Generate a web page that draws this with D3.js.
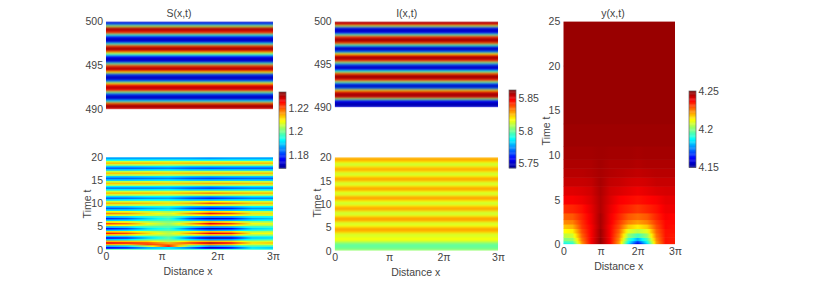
<!DOCTYPE html>
<html>
<head>
<meta charset="utf-8">
<script src="https://cdn.jsdelivr.net/npm/d3@7"></script>
<style>
  body { margin: 0; background: #fff; }
  text { font-family: "Liberation Sans", Arial, sans-serif; font-size: 10.5px; fill: #444; }
</style>
</head>
<body>
<div id="chart"></div>
<script>
const xTickValues = [0, 1, 2, 3];
const xTickLabels = ["0", "π", "2π", "3π"];

// S(x,t) late window, 490..500 in steps of 0.25
const sHighValues = [1.224,1.231,1.231,1.217,1.191,1.174,1.172,1.182,1.202,1.225,1.231,1.226,1.208,1.185,1.173,1.172,1.182,1.209,1.228,1.231,1.221,1.198,1.175,1.171,1.177,1.195,1.212,1.229,1.232,1.221,1.196,1.175,1.171,1.178,1.196,1.221,1.230,1.230,1.204,1.182,1.172];

// I(x,t) late window, 490..500 in steps of 0.25
const iHighValues = [5.755,5.748,5.748,5.758,5.803,5.852,5.860,5.852,5.822,5.770,5.747,5.767,5.803,5.844,5.860,5.856,5.832,5.791,5.755,5.748,5.767,5.803,5.844,5.860,5.852,5.820,5.773,5.748,5.753,5.793,5.836,5.857,5.858,5.841,5.797,5.757,5.747,5.760,5.808,5.850,5.860];

// I(x,t) early window, 0..20 in steps of 1/3
const iLowValues = [5.808,5.803,5.800,5.799,5.799,5.803,5.811,5.816,5.817,5.814,5.812,5.814,5.822,5.827,5.829,5.824,5.817,5.812,5.813,5.822,5.829,5.829,5.822,5.814,5.811,5.813,5.823,5.829,5.827,5.819,5.812,5.811,5.817,5.826,5.830,5.824,5.814,5.811,5.816,5.825,5.829,5.825,5.816,5.811,5.814,5.823,5.829,5.826,5.818,5.811,5.812,5.820,5.827,5.827,5.820,5.812,5.811,5.818,5.826,5.829,5.824];

// S(x,t) early window: columns in units of pi, one row per time
const sLowColumns = [0, 0.375, 0.75, 1.125, 1.5, 1.875, 2.25, 2.625, 3];
const sLowTimes = [0,0.5,0.83,1.17,1.5,1.87,2.23,2.6,2.93,3.27,3.6,3.93,4.27,4.6,4.97,5.33,5.7,6.07,6.43,6.8,7.17,7.53,7.9,8.27,8.63,9,9.37,9.73,10.1,10.47,10.83,11.2,11.57,11.93,12.3,12.67,13.03,13.4,13.73,14.07,14.4,14.77,15.13,15.5,15.87,16.23,16.6,16.97,17.33,17.7,18.07,18.43,18.8,19.13,19.47,19.8,20];
const sLowGrid = [
  [1.198,1.198,1.196,1.195,1.196,1.196,1.196,1.196,1.195],
  [1.177,1.180,1.188,1.192,1.185,1.174,1.179,1.192,1.190],
  [1.188,1.191,1.205,1.224,1.198,1.187,1.190,1.197,1.196],
  [1.214,1.213,1.221,1.218,1.212,1.216,1.213,1.206,1.207],
  [1.226,1.224,1.221,1.214,1.221,1.229,1.224,1.211,1.213],
  [1.214,1.213,1.212,1.204,1.212,1.214,1.212,1.206,1.207],
  [1.189,1.191,1.198,1.200,1.192,1.186,1.187,1.195,1.197],
  [1.177,1.180,1.190,1.198,1.183,1.172,1.175,1.190,1.191],
  [1.189,1.190,1.195,1.200,1.191,1.186,1.187,1.195,1.195],
  [1.212,1.211,1.207,1.204,1.208,1.212,1.212,1.204,1.204],
  [1.224,1.221,1.212,1.205,1.216,1.226,1.224,1.209,1.209],
  [1.212,1.211,1.207,1.203,1.208,1.213,1.212,1.204,1.205],
  [1.189,1.191,1.196,1.198,1.191,1.186,1.189,1.195,1.197],
  [1.177,1.181,1.191,1.196,1.183,1.173,1.177,1.190,1.192],
  [1.188,1.190,1.196,1.198,1.191,1.186,1.188,1.195,1.196],
  [1.210,1.209,1.204,1.201,1.206,1.213,1.210,1.204,1.204],
  [1.221,1.218,1.209,1.203,1.214,1.226,1.221,1.209,1.208],
  [1.210,1.209,1.204,1.201,1.206,1.213,1.210,1.204,1.203],
  [1.190,1.191,1.195,1.198,1.190,1.187,1.188,1.192,1.194],
  [1.179,1.182,1.190,1.196,1.182,1.174,1.177,1.187,1.189],
  [1.189,1.191,1.195,1.199,1.191,1.187,1.188,1.193,1.194],
  [1.207,1.207,1.206,1.204,1.207,1.211,1.209,1.205,1.206],
  [1.217,1.216,1.211,1.207,1.216,1.224,1.220,1.211,1.211],
  [1.208,1.208,1.205,1.203,1.207,1.212,1.210,1.205,1.205],
  [1.191,1.191,1.193,1.194,1.191,1.189,1.189,1.192,1.192],
  [1.182,1.183,1.187,1.190,1.182,1.177,1.179,1.186,1.186],
  [1.190,1.191,1.194,1.195,1.190,1.188,1.189,1.193,1.193],
  [1.206,1.206,1.206,1.206,1.206,1.209,1.207,1.206,1.206],
  [1.214,1.214,1.213,1.211,1.214,1.220,1.217,1.213,1.213],
  [1.206,1.206,1.206,1.205,1.206,1.210,1.208,1.206,1.206],
  [1.191,1.192,1.193,1.193,1.190,1.189,1.191,1.192,1.192],
  [1.183,1.184,1.186,1.187,1.182,1.179,1.182,1.185,1.185],
  [1.191,1.191,1.193,1.193,1.190,1.188,1.190,1.192,1.192],
  [1.206,1.206,1.206,1.206,1.206,1.207,1.206,1.206,1.206],
  [1.213,1.213,1.213,1.212,1.214,1.216,1.214,1.213,1.213],
  [1.206,1.206,1.206,1.206,1.207,1.207,1.206,1.206,1.206],
  [1.192,1.192,1.192,1.193,1.190,1.190,1.191,1.192,1.192],
  [1.185,1.185,1.185,1.186,1.183,1.181,1.183,1.185,1.185],
  [1.192,1.192,1.192,1.192,1.191,1.189,1.191,1.192,1.192],
  [1.206,1.206,1.206,1.205,1.205,1.206,1.206,1.206,1.206],
  [1.213,1.213,1.213,1.212,1.213,1.214,1.214,1.213,1.213],
  [1.205,1.205,1.206,1.205,1.205,1.206,1.206,1.205,1.205],
  [1.190,1.190,1.191,1.192,1.190,1.189,1.190,1.190,1.190],
  [1.183,1.183,1.184,1.185,1.182,1.181,1.182,1.183,1.183],
  [1.190,1.190,1.191,1.192,1.190,1.189,1.190,1.190,1.190],
  [1.205,1.205,1.206,1.205,1.205,1.205,1.205,1.205,1.205],
  [1.213,1.213,1.213,1.212,1.213,1.213,1.213,1.213,1.213],
  [1.205,1.205,1.206,1.205,1.205,1.205,1.205,1.205,1.205],
  [1.190,1.190,1.191,1.192,1.190,1.190,1.190,1.190,1.190],
  [1.183,1.183,1.184,1.185,1.183,1.182,1.183,1.183,1.183],
  [1.190,1.190,1.191,1.192,1.190,1.190,1.190,1.190,1.190],
  [1.205,1.205,1.206,1.205,1.205,1.205,1.205,1.205,1.205],
  [1.213,1.213,1.213,1.212,1.213,1.213,1.213,1.213,1.213],
  [1.206,1.206,1.206,1.206,1.206,1.206,1.206,1.206,1.206],
  [1.193,1.193,1.193,1.194,1.193,1.193,1.193,1.193,1.193],
  [1.187,1.187,1.187,1.187,1.187,1.186,1.187,1.187,1.187],
  [1.188,1.188,1.188,1.188,1.188,1.187,1.188,1.188,1.188]
];

// y(x,t): columns in units of pi
const yColumns = [0, 0.25, 0.5, 0.75, 1, 1.25, 1.5, 1.75, 2, 2.25, 2.5, 2.75, 3];
const yTimes = [0,0.25,0.5,1,1.5,2,2.5,3,4,5,6,7,8,9,10,12,15,25];
const yGrid = [
  [4.186,4.188,4.222,4.238,4.248,4.238,4.222,4.182,4.155,4.182,4.222,4.236,4.234],
  [4.192,4.195,4.224,4.238,4.248,4.238,4.222,4.188,4.166,4.188,4.222,4.236,4.235],
  [4.200,4.202,4.226,4.238,4.248,4.238,4.224,4.194,4.180,4.194,4.224,4.236,4.235],
  [4.206,4.208,4.228,4.238,4.247,4.238,4.226,4.202,4.194,4.202,4.226,4.236,4.235],
  [4.212,4.214,4.230,4.238,4.247,4.238,4.228,4.210,4.206,4.210,4.228,4.236,4.236],
  [4.218,4.220,4.232,4.238,4.246,4.238,4.230,4.218,4.214,4.218,4.230,4.237,4.236],
  [4.224,4.225,4.233,4.239,4.246,4.239,4.232,4.225,4.222,4.225,4.232,4.237,4.237],
  [4.228,4.229,4.234,4.239,4.246,4.239,4.234,4.229,4.227,4.229,4.234,4.238,4.237],
  [4.233,4.234,4.236,4.240,4.245,4.240,4.236,4.234,4.232,4.234,4.236,4.239,4.239],
  [4.238,4.238,4.239,4.241,4.245,4.241,4.238,4.237,4.236,4.237,4.238,4.240,4.240],
  [4.2405,4.2405,4.241,4.242,4.2455,4.242,4.241,4.240,4.239,4.240,4.241,4.2415,4.2415],
  [4.243,4.243,4.243,4.2435,4.246,4.2435,4.243,4.242,4.2415,4.242,4.243,4.243,4.243],
  [4.2445,4.2445,4.2445,4.245,4.246,4.245,4.2445,4.244,4.2435,4.244,4.2445,4.2445,4.2445],
  [4.2455,4.2455,4.2455,4.2455,4.2465,4.2455,4.2455,4.2455,4.245,4.2455,4.2455,4.2455,4.2455],
  [4.2465,4.2465,4.2465,4.2465,4.2468,4.2465,4.2465,4.2465,4.2462,4.2465,4.2465,4.2465,4.2465],
  [4.247,4.247,4.247,4.247,4.247,4.247,4.247,4.247,4.247,4.247,4.247,4.247,4.247],
  [4.2475,4.2475,4.2475,4.2475,4.2475,4.2475,4.2475,4.2475,4.2475,4.2475,4.2475,4.2475,4.2475],
  [4.2475,4.2475,4.2475,4.2475,4.2475,4.2475,4.2475,4.2475,4.2475,4.2475,4.2475,4.2475,4.2475]
];

const jetStops = [0, 0.125, 0.375, 0.625, 0.875, 1];
const jetColors = ["#00008f", "#0000ff", "#00ffff", "#ffff00", "#ff0000", "#800000"];

const svg = d3.select("#chart").append("svg").attr("width", 814).attr("height", 286);

const defs = svg.append("defs");
function addBlur(id, amount) {
  defs.append("filter").attr("id", id)
    .attr("color-interpolation-filters", "sRGB")
    .attr("x", "-2%").attr("y", "-2%").attr("width", "104%").attr("height", "104%")
    .append("feGaussianBlur").attr("stdDeviation", `0 ${amount}`);
}
addBlur("soft", 0.8);
addBlur("softer", 0.45);

function jetScale(domain) {
  const [lo, hi] = domain;
  return d3.scaleLinear()
    .domain(jetStops.map(s => lo + s * (hi - lo)))
    .range(jetColors)
    .clamp(true);
}

let clipCount = 0;

// draws a panel: rows[] holds one value per column (or a single value if flat in x)
function drawPanel(box, times, columns, rows, color, yDomain, yTicks, blur) {
  const x = d3.scaleLinear().domain([0, 3]).range([box.left, box.right]);
  const y = d3.scaleLinear().domain(yDomain).range([box.bottom, box.top]);

  const id = "clip" + (++clipCount);
  defs.append("clipPath").attr("id", id).append("rect")
    .attr("x", box.left).attr("y", box.top)
    .attr("width", box.right - box.left).attr("height", box.bottom - box.top);

  const g = svg.append("g").attr("clip-path", `url(#${id})`).append("g").attr("filter", `url(#${blur})`);

  // row edges halfway between sample times
  const edges = times.map((t, i) => [
    i === 0 ? t : (times[i - 1] + t) / 2,
    i === times.length - 1 ? t : (t + times[i + 1]) / 2
  ]);

  rows.forEach((row, i) => {
    let fill;
    if (row.length === 1) {
      fill = color(row[0]);
    } else {
      const gid = `${id}-row${i}`;
      const grad = defs.append("linearGradient").attr("id", gid);
      row.forEach((v, j) => {
        const offset = columns[j] / 3;
        grad.append("stop").attr("offset", offset).attr("stop-color", color(v));
        if (j < row.length - 1) {
          // shading between columns goes through the colour map, as in the original
          [0.25, 0.5, 0.75].forEach(f => {
            const nextOffset = columns[j + 1] / 3;
            grad.append("stop")
              .attr("offset", offset + f * (nextOffset - offset))
              .attr("stop-color", color(v + f * (row[j + 1] - v)));
          });
        }
      });
      fill = `url(#${gid})`;
    }
    g.append("rect")
      .attr("x", box.left)
      .attr("width", box.right - box.left)
      .attr("y", y(edges[i][1]) - 0.3)
      .attr("height", y(edges[i][0]) - y(edges[i][1]) + 0.6)
      .attr("fill", fill);
  });

  const yAxis = d3.axisLeft(y).tickValues(yTicks).tickSize(0).tickPadding(3);
  svg.append("g").attr("transform", `translate(${box.left},0)`).call(yAxis)
    .call(a => a.select(".domain").remove());
  return x;
}

function drawXAxis(x, yPos) {
  const axis = d3.axisBottom(x).tickValues(xTickValues)
    .tickFormat((d, i) => xTickLabels[i]).tickSize(0).tickPadding(3);
  svg.append("g").attr("transform", `translate(0,${yPos})`).call(axis)
    .call(a => a.select(".domain").remove());
}

function label(txt, x, y, rotate) {
  const t = svg.append("text").attr("text-anchor", "middle").text(txt);
  if (rotate) t.attr("transform", `translate(${x},${y}) rotate(-90)`);
  else t.attr("x", x).attr("y", y);
}

function drawColorbar(box, domain, ticks, format) {
  const color = jetScale(domain);
  const scale = d3.scaleLinear().domain(domain).range([box.bottom, box.top]);
  const levels = d3.range(64).map(i => domain[0] + (i + 0.5) / 64 * (domain[1] - domain[0]));
  const step = (domain[1] - domain[0]) / 64;
  svg.append("g").selectAll("rect").data(levels).join("rect")
    .attr("x", box.left).attr("width", box.right - box.left)
    .attr("y", d => scale(d + step / 2))
    .attr("height", d => scale(d - step / 2) - scale(d + step / 2) + 0.3)
    .attr("fill", d => color(d));
  svg.append("rect").attr("x", box.left).attr("y", box.top)
    .attr("width", box.right - box.left).attr("height", box.bottom - box.top)
    .attr("fill", "none").attr("stroke", "#666").attr("stroke-width", 0.7);
  const axis = d3.axisRight(scale).tickValues(ticks).tickFormat(format).tickSize(0).tickPadding(2.5);
  svg.append("g").attr("transform", `translate(${box.right},0)`).call(axis)
    .call(a => a.select(".domain").remove());
}

const sDomain = [1.1687, 1.2336];
const iDomain = [5.743, 5.862];
const yDomain = [4.15, 4.25];
const sColor = jetScale(sDomain);
const iColor = jetScale(iDomain);
const yColor = jetScale(yDomain);

const highTimes = sHighValues.map((v, i) => 490 + i * 0.25);
const iLowTimes = iLowValues.map((v, i) => i / 3);

// S(x,t)
drawPanel({ left: 106, right: 273, top: 21.5, bottom: 109.3 }, highTimes, null, sHighValues.map(v => [v]), sColor, [490, 500], [490, 495, 500], "soft");
const xS = drawPanel({ left: 106, right: 273, top: 157.3, bottom: 249.7 }, sLowTimes, sLowColumns, sLowGrid, sColor, [0, 20], [0, 5, 10, 15, 20], "softer");
drawXAxis(xS, 249.7);
label("S(x,t)", 179, 17);
label("Distance x", 188, 275);
label("Time t", 91, 204, true);
drawColorbar({ left: 279, right: 286, top: 92, bottom: 168.3 }, sDomain, [1.18, 1.2, 1.22], d3.format(".3~f"));

// I(x,t)
drawPanel({ left: 334.7, right: 498, top: 21.5, bottom: 107.3 }, highTimes, null, iHighValues.map(v => [v]), iColor, [490, 500], [490, 495, 500], "soft");
const xI = drawPanel({ left: 334.7, right: 498, top: 157.3, bottom: 250.7 }, iLowTimes, null, iLowValues.map(v => [v]), iColor, [0, 20], [0, 5, 10, 15, 20], "soft");
drawXAxis(xI, 250.7);
label("I(x,t)", 406.7, 17);
label("Distance x", 415.7, 276);
label("Time t", 321, 203, true);
drawColorbar({ left: 509, right: 516, top: 90, bottom: 168 }, iDomain, [5.75, 5.8, 5.85], d3.format(".2~f"));

// y(x,t)
const xY = drawPanel({ left: 563.3, right: 675, top: 21.5, bottom: 244.3 }, yTimes, yColumns, yGrid, yColor, [0, 25], [0, 5, 10, 15, 20, 25], "softer");
drawXAxis(xY, 244.3);
label("y(x,t)", 613, 17);
label("Distance x", 618.7, 270);
label("Time t", 550, 131, true);
drawColorbar({ left: 689, right: 696, top: 91, bottom: 167.5 }, yDomain, [4.15, 4.2, 4.25], d3.format(".2~f"));
</script>
</body>
</html>
